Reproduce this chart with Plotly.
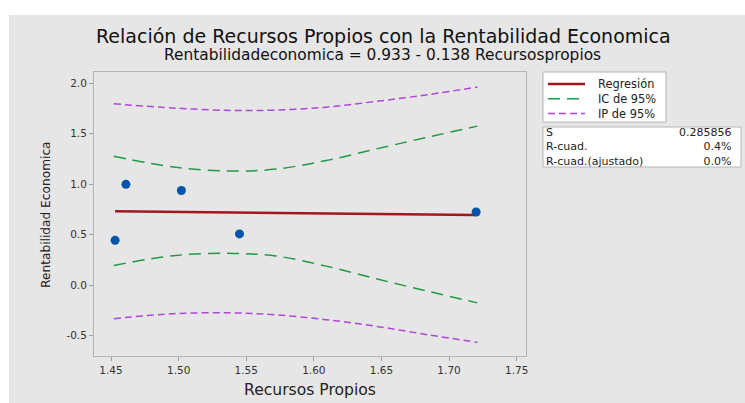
import plotly.graph_objects as go

# Observed data
recursos_propios = [1.453, 1.461, 1.502, 1.545, 1.720]
rentabilidad = [0.445, 1.000, 0.939, 0.509, 0.726]

# Fitted model: Rentabilidadeconomica = 0.933 - 0.138 Recursospropios
intercepto = 0.933
pendiente = -0.138

# 95% confidence and prediction bands
banda_x = [1.452, 1.498, 1.540, 1.572, 1.609, 1.646, 1.684, 1.721]
ic_sup = [1.277, 1.168, 1.131, 1.151, 1.235, 1.350, 1.466, 1.576]
ic_inf = [0.197, 0.296, 0.316, 0.290, 0.190, 0.065, -0.058, -0.174]
ip_sup = [1.797, 1.754, 1.731, 1.735, 1.764, 1.821, 1.887, 1.963]
ip_inf = [-0.330, -0.280, -0.273, -0.293, -0.340, -0.406, -0.489, -0.565]

# Summary statistics
stat_nombres = ["S", "R-cuad.", "R-cuad.(ajustado)"]
stat_valores = ["0.285856", "0.4%", "0.0%"]

leyenda_nombres = ["Regresión", "IC de 95%", "IP de 95%"]

x_ticks = [1.45, 1.50, 1.55, 1.60, 1.65, 1.70, 1.75]
y_ticks = [-0.5, 0.0, 0.5, 1.0, 1.5, 2.0]

W, H = 745, 403
L, R, T, B = 94, 526, 72, 356
FONT = "DejaVu Sans"

def px(x):
    return (x - L) / (R - L)

def py(y):
    return (B - y) / (B - T)

C_REG = "#a3161c"
C_IC = "#1f9a42"
C_IP = "#b046d6"
C_PT = "#0055a8"
DASH_IC = "12px,7px"
DASH_IP = "7px,4px"

fig = go.Figure()

fig.add_trace(go.Scatter(x=banda_x, y=ip_sup, mode="lines", line_shape="spline",
                         line=dict(color=C_IP, width=1.5, dash=DASH_IP), hoverinfo="skip"))
fig.add_trace(go.Scatter(x=banda_x, y=ip_inf, mode="lines", line_shape="spline",
                         line=dict(color=C_IP, width=1.5, dash=DASH_IP), hoverinfo="skip"))
fig.add_trace(go.Scatter(x=banda_x, y=ic_sup, mode="lines", line_shape="spline",
                         line=dict(color=C_IC, width=1.5, dash=DASH_IC), hoverinfo="skip"))
fig.add_trace(go.Scatter(x=banda_x, y=ic_inf, mode="lines", line_shape="spline",
                         line=dict(color=C_IC, width=1.5, dash=DASH_IC), hoverinfo="skip"))

reg_x = [min(recursos_propios), max(recursos_propios)]
reg_y = [intercepto + pendiente * v for v in reg_x]
fig.add_trace(go.Scatter(x=reg_x, y=reg_y, mode="lines",
                         line=dict(color=C_REG, width=2.5)))

fig.add_trace(go.Scatter(x=recursos_propios, y=rentabilidad, mode="markers",
                         marker=dict(color=C_PT, size=9)))

shapes = []
# grey panel behind the chart
shapes.append(dict(type="rect", xref="paper", yref="paper", layer="below",
                   x0=px(9), x1=px(W + 2), y0=py(H + 2), y1=py(15),
                   fillcolor="#e6e6e6", line=dict(width=0)))
# legend box
shapes.append(dict(type="rect", xref="paper", yref="paper",
                   x0=px(543), x1=px(666), y0=py(122), y1=py(72),
                   fillcolor="white", line=dict(color="#b4b4b4", width=1)))
# statistics box
shapes.append(dict(type="rect", xref="paper", yref="paper",
                   x0=px(543), x1=px(741), y0=py(167), y1=py(127),
                   fillcolor="white", line=dict(color="#b4b4b4", width=1)))

# legend line samples
muestras = [(C_REG, "solid", 2.5, 84), (C_IC, DASH_IC, 1.5, 98.7), (C_IP, DASH_IP, 1.5, 113.4)]
for color, dash, ancho, yy in muestras:
    shapes.append(dict(type="line", xref="paper", yref="paper",
                       x0=px(548), x1=px(585), y0=py(yy), y1=py(yy),
                       line=dict(color=color, width=ancho, dash=dash)))

annotations = []
annotations.append(dict(text="<br>".join(leyenda_nombres), xref="paper", yref="paper",
                        x=px(596), y=py(98.7), xanchor="left", yanchor="middle",
                        align="left", showarrow=False,
                        font=dict(family=FONT, size=11.4, color="#222")))
annotations.append(dict(text="<br>".join(stat_nombres), xref="paper", yref="paper",
                        x=px(544), y=py(147), xanchor="left", yanchor="middle",
                        align="left", showarrow=False,
                        font=dict(family=FONT, size=11, color="#222")))
annotations.append(dict(text="<br>".join(stat_valores), xref="paper", yref="paper",
                        x=px(734), y=py(147), xanchor="right", yanchor="middle",
                        align="right", showarrow=False,
                        font=dict(family=FONT, size=11, color="#222")))

annotations.append(dict(text="Relación de Recursos Propios con la Rentabilidad Economica",
                        xref="paper", yref="paper", x=px(383), y=py(36),
                        xanchor="center", yanchor="middle", showarrow=False,
                        font=dict(family=FONT, size=19, color="#111")))
annotations.append(dict(text="Rentabilidadeconomica = 0.933 - 0.138 Recursospropios",
                        xref="paper", yref="paper", x=px(382), y=py(55),
                        xanchor="center", yanchor="middle", showarrow=False,
                        font=dict(family=FONT, size=15.4, color="#111")))
annotations.append(dict(text="Recursos Propios", xref="paper", yref="paper",
                        x=px(310), y=py(390), xanchor="center", yanchor="middle",
                        showarrow=False, font=dict(family=FONT, size=15.6, color="#222")))
annotations.append(dict(text="Rentabilidad Economica", xref="paper", yref="paper",
                        x=px(46), y=py(215), xanchor="center", yanchor="middle",
                        textangle=-90, showarrow=False,
                        font=dict(family=FONT, size=12.2, color="#222")))
# heading above the panel, cut by the page edge
annotations.append(dict(text="propios", xref="paper", yref="paper",
                        x=px(336), y=py(-2.5), xanchor="left", yanchor="bottom",
                        showarrow=False, font=dict(family="Open Sans", size=28, color="#111")))

fig.update_layout(
    width=W, height=H,
    margin=dict(l=L, r=W - R, t=T, b=H - B),
    paper_bgcolor="white", plot_bgcolor="white",
    showlegend=False,
    shapes=shapes, annotations=annotations,
    font=dict(family=FONT),
    xaxis=dict(range=[1.4374, 1.7569], tickvals=x_ticks,
               ticktext=[f"{v:.2f}" for v in x_ticks],
               showgrid=False, zeroline=False, showline=True, mirror=True,
               linecolor="#b4b4b4", linewidth=1, ticks="outside", ticklen=4,
               tickcolor="#a0a0a0", tickfont=dict(family=FONT, size=10.5, color="#333")),
    yaxis=dict(range=[-0.70, 2.112], tickvals=y_ticks,
               ticktext=[f"{v:.1f}" for v in y_ticks],
               showgrid=False, zeroline=False, showline=True, mirror=True,
               linecolor="#b4b4b4", linewidth=1, ticks="outside", ticklen=4,
               tickcolor="#a0a0a0", tickfont=dict(family=FONT, size=10.5, color="#333")),
)

fig.write_html("out.html")
